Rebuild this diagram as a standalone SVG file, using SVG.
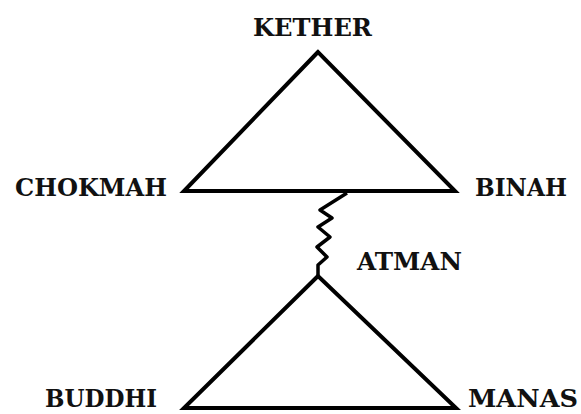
<svg xmlns="http://www.w3.org/2000/svg" width="581" height="414" viewBox="0 0 581 414">
<style>
.ln{fill:none;stroke:#000;stroke-width:4;stroke-linejoin:miter}
.zz{fill:none;stroke:#000;stroke-width:3.5;stroke-linejoin:round}
.lb{font-family:"DejaVu Serif","Liberation Serif",serif;font-weight:bold;font-size:24px;fill:#111}
</style>
<rect width="581" height="414" fill="#fff"/>
<g id="connectors">
<polygon id="upper-triangle" class="ln" points="318,52 184,191 455,191"/>
<polyline id="atman-link" class="zz" points="347,193 320,210 332,218 318,227 330,237 317,247 327,257 318,265 318,276"/>
<polygon id="lower-triangle" class="ln" points="318,276 184,408 456,408"/>
</g>
<g id="kether"><text class="lb" x="253" y="36" textLength="119" lengthAdjust="spacingAndGlyphs">KETHER</text></g>
<g id="chokmah"><text class="lb" x="15" y="196" textLength="152" lengthAdjust="spacingAndGlyphs">CHOKMAH</text></g>
<g id="binah"><text class="lb" x="475" y="196" textLength="92" lengthAdjust="spacingAndGlyphs">BINAH</text></g>
<g id="atman"><text class="lb" x="357" y="270" textLength="105" lengthAdjust="spacingAndGlyphs">ATMAN</text></g>
<g id="buddhi"><text class="lb" x="45" y="407" textLength="112" lengthAdjust="spacingAndGlyphs">BUDDHI</text></g>
<g id="manas"><text class="lb" x="468" y="407" textLength="110" lengthAdjust="spacingAndGlyphs">MANAS</text></g>
</svg>
